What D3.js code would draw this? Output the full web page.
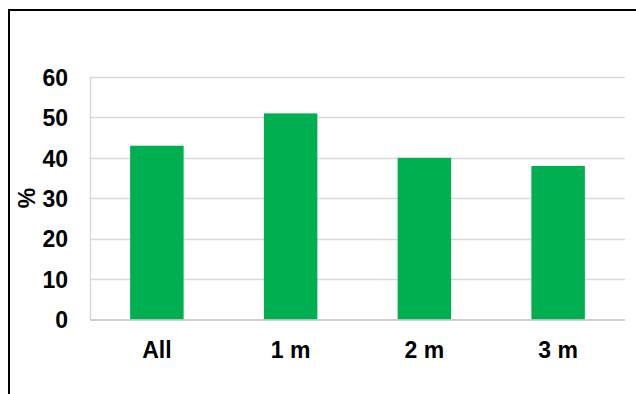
<!DOCTYPE html>
<html>
<head>
<meta charset="utf-8">
<script src="https://cdn.jsdelivr.net/npm/d3@7"></script>
<style>
  html, body { margin: 0; padding: 0; background: #fff; }
  svg { display: block; }
  text { font-family: "Liberation Sans", Arial, sans-serif; font-weight: bold; fill: #000; }
</style>
</head>
<body>
<svg id="chart" width="636" height="394"></svg>
<script>
// Share (%) by group
const categories = ["All", "1 m", "2 m", "3 m"];
const values = [43, 51, 40, 38];
const yTicks = [0, 10, 20, 30, 40, 50, 60];
const yLabel = "%";

const svg = d3.select("#chart");
const W = 636, H = 394;
const plot = { left: 90, right: 625, top: 77, bottom: 319.5 };
const fontSize = 23;

// Outer frame (extends past the right and bottom edges)
svg.append("rect")
  .attr("x", 9).attr("y", 10)
  .attr("width", W + 20).attr("height", H + 20)
  .attr("fill", "none").attr("stroke", "#000").attr("stroke-width", 2);

const x = d3.scaleBand().domain(categories).range([plot.left, plot.right]).padding(0);
const y = d3.scaleLinear().domain([0, 60]).range([plot.bottom, plot.top]);

// Horizontal gridlines
svg.append("g")
  .selectAll("line")
  .data(yTicks.filter(t => t > 0))
  .join("line")
  .attr("x1", plot.left).attr("x2", plot.right)
  .attr("y1", d => Math.round(y(d)) + 0.5).attr("y2", d => Math.round(y(d)) + 0.5)
  .attr("stroke", "#d9d9d9").attr("stroke-width", 1.5);

// Vertical axis line
svg.append("line")
  .attr("x1", plot.left + 0.5).attr("x2", plot.left + 0.5)
  .attr("y1", plot.top).attr("y2", plot.bottom)
  .attr("stroke", "#d9d9d9").attr("stroke-width", 1.5);

// Bars, 40% of each category band
const barFrac = 0.4;
svg.append("g")
  .selectAll("rect")
  .data(categories.map((c, i) => ({ c, v: values[i] })))
  .join("rect")
  .attr("x", d => x(d.c) + x.bandwidth() * (1 - barFrac) / 2)
  .attr("width", x.bandwidth() * barFrac)
  .attr("y", d => y(d.v))
  .attr("height", d => y(0) - y(d.v))
  .attr("fill", "#00b050");

// Baseline
svg.append("line")
  .attr("x1", plot.left).attr("x2", plot.right)
  .attr("y1", plot.bottom + 0.5).attr("y2", plot.bottom + 0.5)
  .attr("stroke", "#bfbfbf").attr("stroke-width", 1.5);

// Y tick labels
const yAxis = d3.axisLeft(y).tickValues(yTicks).tickSize(0).tickPadding(22);
const gy = svg.append("g").attr("transform", `translate(${plot.left},0)`).call(yAxis);
gy.select(".domain").remove();
gy.selectAll("text")
  .attr("font-size", fontSize)
  .attr("font-family", "Liberation Sans, Arial, sans-serif")
  .attr("font-weight", "bold")
  .attr("fill", "#000")
  .attr("dy", "0.36em");

// X category labels
const xAxis = d3.axisBottom(x).tickSize(0).tickPadding(0);
const gx = svg.append("g").attr("transform", `translate(0,${plot.bottom})`).call(xAxis);
gx.select(".domain").remove();
gx.selectAll("text")
  .attr("font-size", fontSize)
  .attr("font-family", "Liberation Sans, Arial, sans-serif")
  .attr("font-weight", "bold")
  .attr("fill", "#000")
  .attr("dy", null)
  .attr("y", 38.5);

// Y axis title
svg.append("text")
  .attr("transform", "translate(35,198) rotate(-90)")
  .attr("text-anchor", "middle")
  .attr("font-size", fontSize)
  .text(yLabel);
</script>
</body>
</html>
